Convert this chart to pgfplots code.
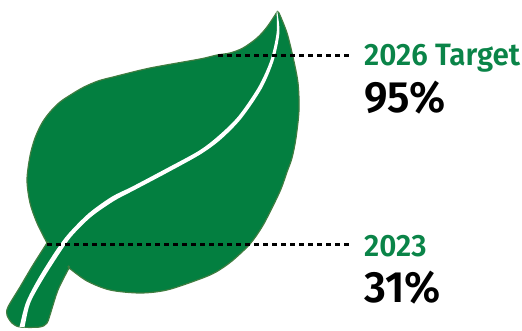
\documentclass[border=0pt]{standalone}
\usepackage{pgfplots}
\pgfplotsset{compat=1.18}
\usepackage{fontspec}
\setmainfont{Fira Sans}
\newfontfamily\headfont[FakeStretch=0.96]{Fira Sans SemiBold}
\newfontfamily\valuefont[FakeStretch=0.97]{Fira Sans SemiBold}
\definecolor{leaf}{HTML}{037F40}
\definecolor{leafedge}{HTML}{3F7D40}
\definecolor{headline}{HTML}{0A8448}
\begin{document}
\begin{tikzpicture}
\begin{axis}[
  scale only axis, width=522bp, height=327bp,
  xmin=0, xmax=522, ymin=0, ymax=327, y dir=reverse,
  hide axis, clip=false
]
% leaf blade and stem
\addplot[fill=leaf, draw=leafedge, line width=1.2pt, smooth, tension=0.5] coordinates {
  (277,12) (277,12) (267,27) (257,38) (243,48) (230,53) (217,55) (200,59) (150,68) (113,77) (98,81) (84,87) (72,94) (60,102) (50,112)
  (42,123) (35,138) (30,156) (27,180) (30,203) (37,223) (47,243) (47,243)
  (33,265) (20,287) (8,307) (7,315) (12,323) (20,327) (40,327) (47,323) (50,315) (58,290) (69,268) (69,268)
  (87,281) (110,290) (140,293) (167,290) (200,279) (216,272) (232,261) (250,244) (262,227) (272,208) (281,189)
  (287,172) (292,158) (296,138) (299,110) (298,83) (293,57) (287,33) (279,13) (277,12) (277,12)
};
% midrib, tapering towards the tip
\addplot[fill=white, draw=none, smooth, tension=0.5] coordinates {
  (276.6,12) (276.6,12) (276.6,33) (270.5,60) (258.3,87) (238.5,116) (218.7,135.6) (199,150.7) (166,168.7)
  (132,186.7) (111.8,196.7) (88.8,213.2) (68.3,233.8) (55,251.8) (38,279) (26,302.5) (19.5,327) (19.5,327)
  (24.5,327) (24.5,327) (30,303.5) (42,281) (59,254.2) (71.7,236.2) (91.2,216.8) (114.2,200.8) (134,190.3) (168,172.3)
  (201,154) (221.3,139) (241.5,118.3) (261.7,88.6) (273.5,61) (279.4,33) (277.4,12) (277.4,12)
};
% leader lines, one small filled block per dash
\pgfplotsinvokeforeach{0,...,14}{
  \pgfmathsetmacro{\dashstart}{218+#1*9}
  \pgfmathsetmacro{\dashend}{218+#1*9+4.8}
  \addplot[fill=black, draw=none, forget plot] coordinates {(\dashstart,54.4) (\dashend,54.4) (\dashend,56.8) (\dashstart,56.8)};
}
\pgfplotsinvokeforeach{0,...,33}{
  \pgfmathsetmacro{\dashstart}{47+#1*9}
  \pgfmathsetmacro{\dashend}{47+#1*9+4.8}
  \addplot[fill=black, draw=none, forget plot] coordinates {(\dashstart,243.3) (\dashend,243.3) (\dashend,245.7) (\dashstart,245.7)};
}
% labels
\node[anchor=base west, inner sep=0pt, text=headline] at (axis cs:364,66) {\fontsize{31}{31}\selectfont\headfont 2026 Target};
\node[anchor=base west, inner sep=0pt, text=black] at (axis cs:364,112) {\fontsize{44}{44}\selectfont\valuefont 95\%};
\node[anchor=base west, inner sep=0pt, text=headline] at (axis cs:364,256) {\fontsize{31}{31}\selectfont\headfont 2023};
\node[anchor=base west, inner sep=0pt, text=black] at (axis cs:364,302) {\fontsize{44}{44}\selectfont\valuefont 31\%};
\end{axis}
% the hidden axis does not reserve its own area, so fix the page size here
\path (0,0) rectangle (522bp,327bp);
\end{tikzpicture}
\end{document}
